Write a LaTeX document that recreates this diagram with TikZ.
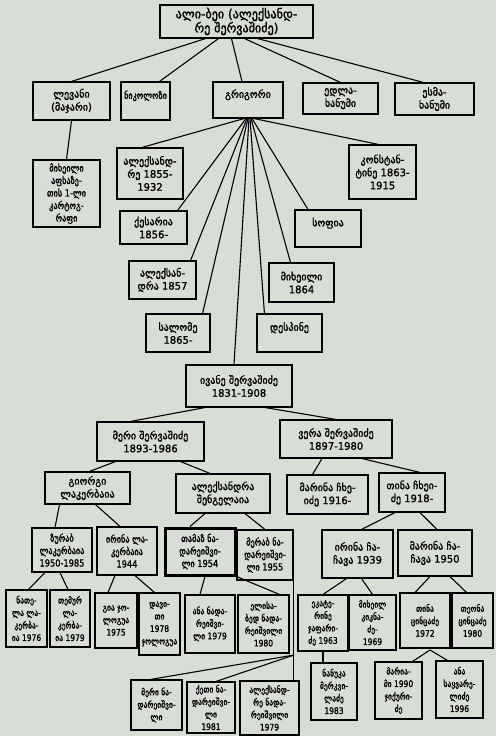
\documentclass[tikz,border=0pt]{standalone}
\usepackage{fontspec}
\usepackage{tikz}
\newfontfamily\gfont{DejaVu Sans}[FakeStretch=0.97, FakeBold=1.5]
\newfontfamily\gfontc{DejaVu Sans}[FakeStretch=0.84, FakeBold=1.5]
\definecolor{paper}{RGB}{216,221,213}
\tikzset{
  box/.style={draw, line width=1.1pt, fill=paper, align=center, inner sep=1pt,
    font=\gfont\fontsize{10.3}{13}\selectfont},
  sbox/.style={box, font=\gfontc\fontsize{9}{12.5}\selectfont},
  mbox/.style={box, font=\gfontc\fontsize{9.8}{12.5}\selectfont},
  sz/.style 2 args={minimum width=#1pt, minimum height=#2pt},
  link/.style={line width=1.1pt}
}
\begin{document}
\begin{tikzpicture}[x=1pt,y=-1pt]
  \fill[paper] (0,0) rectangle (496,736);
  \useasboundingbox (0,0) rectangle (496,736);
  % generation 1-2
  \node[box,sz={153}{33},font=\gfont\fontsize{12.5}{14}\selectfont] (top) at (236.5,21.5) {ალი-ბეი (ალექსანდ-\\რე შერვაშიძე)};
  \node[box,sz={77}{38}] (levani) at (71.5,101) {ლევანი\\(მაჯარი)};
  \node[mbox,sz={49}{38}] (nikolozi) at (145.5,101) {ნიკოლოზი\\~};
  \node[box,sz={70}{36}] (grigori) at (248,100) {გრიგორი\\~};
  \node[box,sz={75}{31}] (edla) at (340.5,98.5) {ედლა-\\ხანუმი};
  \node[box,sz={79}{32}] (esma) at (434.5,99) {ესმა-\\ხანუმი};
  \draw[link] ([xshift=-31pt]top.south) -- (levani.north);
  \draw[link] ([xshift=-18pt]top.south) -- ([xshift=14pt]nikolozi.north);
  \draw[link] ([xshift=-5pt]top.south) -- ([xshift=-6pt]grigori.north);
  \draw[link] ([xshift=8pt]top.south) -- (edla.north);
  \draw[link] ([xshift=21pt]top.south) -- ([xshift=-11pt]esma.north);
  % children of grigori
  \node[mbox,sz={67}{67}] (mikheili) at (66.5,193.5) {მიხეილი\\აფხაზე-\\თის 1-ლი\\კარტოგ-\\რაფი};
  \node[box,sz={66}{51}] (aleksandre) at (150,173.5) {ალექსანდ-\\რე 1855-\\1932};
  \node[box,sz={67}{33}] (kesaria) at (153.5,227.5) {ქესარია\\1856-};
  \node[box,sz={67}{54}] (konstantine) at (382.5,172) {კონსტან-\\ტინე 1863-\\1915};
  \node[box,sz={66}{37}] (sofia) at (328,228.5) {სოფია\\~};
  \node[box,sz={67}{38}] (aleksandra) at (162.5,280) {ალექსან-\\დრა 1857};
  \node[box,sz={65}{39}] (mikheil) at (301.5,282.5) {მიხეილი\\1864};
  \node[box,sz={64}{38}] (salome) at (178,333) {სალომე\\1865-};
  \node[box,sz={65}{38}] (despine) at (289.5,333) {დესპინე\\~};
  \node[box,sz={106}{42}] (ivane) at (239,386) {ივანე შერვაშიძე\\1831-1908};
  \draw[link] (levani.south) -- (mikheili.north);
  \draw[link] ([xshift=-4pt]grigori.south) -- ([xshift=-8pt]aleksandre.north);
  \draw[link] ([xshift=6pt]grigori.south) -- ([xshift=-4pt]konstantine.north);
  \draw[link] ([xshift=-2pt]grigori.south) -- ([xshift=-10pt]kesaria.north east);
  \draw[link] ([xshift=4pt]grigori.south) -- ([xshift=-20pt]sofia.north);
  \draw[link] ([xshift=-1pt]grigori.south) -- ([xshift=-6pt]aleksandra.north east);
  \draw[link] ([xshift=3pt]grigori.south) -- ([xshift=-11pt]mikheil.north);
  \draw[link] (grigori.south) -- ([xshift=-8pt]salome.north east);
  \draw[link] ([xshift=2pt]grigori.south) -- ([xshift=8pt]despine.north west);
  \draw[link] ([xshift=1pt]grigori.south) -- ([xshift=-5pt]ivane.north);
  % children of ivane
  \node[box,sz={107}{39}] (meri) at (150.5,441.5) {მერი შერვაშიძე\\1893-1986};
  \node[box,sz={112}{38}] (vera) at (336,439) {ვერა შერვაშიძე\\1897-1980};
  \draw[link] ([xshift=-34pt]ivane.south) -- ([xshift=-20pt]meri.north);
  \draw[link] ([xshift=26pt]ivane.south) -- (vera.north);
  \node[box,sz={85}{32}] (giorgi) at (87.5,488) {გიორგი\\ლაკერბაია};
  \node[box,sz={94}{39}] (aleksandrash) at (223,493.5) {ალექსანდრა\\შენგელაია};
  \node[box,sz={81}{39}] (marinach) at (327.5,494.5) {მარინა ჩხე-\\იძე 1916-};
  \node[box,sz={66}{39}] (tinach) at (412,492.5) {თინა ჩხეი-\\ძე 1918-};
  \draw[link] ([xshift=-35pt]meri.south) -- ([xshift=2pt]giorgi.north);
  \draw[link] ([xshift=30pt]meri.south) -- ([xshift=-13pt]aleksandrash.north);
  \draw[link] ([xshift=-14pt]vera.south) -- ([xshift=-15pt]marinach.north);
  \draw[link] ([xshift=26pt]vera.south) -- ([xshift=8pt]tinach.north);
  % fourth generation
  \node[mbox,sz={60}{44}] (zurab) at (62,550) {ზურაბ\\ლაკერბაია\\1950-1985};
  \node[mbox,sz={60}{48}] (irinal) at (127,551) {ირინა ლა-\\კერბაია\\1944};
  \node[mbox,sz={70}{47},line width=3pt] (tamaz) at (200,551.5) {თამაზ ნა-\\დარეიშვი-\\ლი 1954};
  \node[mbox,sz={56}{50}] (merab) at (265,555) {მერაბ ნა-\\დარეიშვი-\\ლი 1955};
  \node[box,sz={71}{48}] (irinacha) at (357.5,554) {ირინა ჩა-\\ჩავა 1939};
  \node[box,sz={74}{46}] (marinacha) at (435,553) {მარინა ჩა-\\ჩავა 1950};
  \draw[link] ([xshift=-28pt]giorgi.south) -- ([xshift=-7pt]zurab.north);
  \draw[link] ([xshift=8pt]giorgi.south) -- ([xshift=-7pt]irinal.north);
  \draw[link] ([xshift=-18pt]aleksandrash.south) -- ([xshift=-10pt]tamaz.north);
  \draw[link] ([xshift=22pt]aleksandrash.south) -- (merab.north);
  \draw[link] ([xshift=-17pt]tinach.south) -- ([xshift=4pt]irinacha.north);
  \draw[link] ([xshift=8pt]tinach.south) -- ([xshift=2pt]marinacha.north);
  % fifth generation
  \node[sbox,sz={41}{57}] (natela) at (26.5,618.5) {ნათე-\\ლა ლა-\\კერბა-\\ია 1976};
  \node[sbox,sz={40}{57}] (temur) at (70,618.5) {თემურ\\ლა-\\კერბა-\\ია 1979};
  \node[sbox,sz={42}{55}] (gia) at (116,620.5) {გია ჯო-\\ლოგუა\\1975};
  \node[sbox,sz={41}{62}] (davit) at (159.5,624) {დავი-\\თი\\1978\\ჯოლოგუა};
  \node[sbox,sz={50}{58}] (ana) at (210,624) {ანა ნადა-\\რეიშვი-\\ლი 1979};
  \node[sbox,sz={51}{58}] (elisabed) at (263.5,624) {ელისა-\\ბედ ნადა-\\რეიშვილი\\1980};
  \node[sbox,sz={50}{56}] (ekaterine) at (323,623) {ეკატე-\\რინე\\ჯაფარი-\\ძე 1963};
  \node[sbox,sz={47}{55}] (mikheilk) at (372.5,622.5) {მიხეილ\\კიკნა-\\ძე-\\1969};
  \node[sbox,sz={50}{55}] (tinats) at (425,620.5) {თინა\\ცინცაძე\\1972};
  \node[sbox,sz={41}{55}] (teona) at (472.5,620.5) {თეონა\\ცინცაძე\\1980};
  \draw[link] ([xshift=-17pt]zurab.south) -- ([xshift=2pt]natela.north);
  \draw[link] ([xshift=-2pt]zurab.south) -- ([xshift=-2pt]temur.north);
  \draw[link] ([xshift=-12pt]irinal.south) -- ([xshift=-8pt]gia.north);
  \draw[link] ([xshift=8pt]irinal.south) -- ([xshift=-5pt]davit.north);
  \draw[link] ([xshift=5pt]tamaz.south) -- ([xshift=-10pt]ana.north);
  \draw[link] (tamaz.south east) -- ([xshift=16pt]elisabed.north);
  \draw[link] ([xshift=-11pt]irinacha.south) -- (ekaterine.north);
  \draw[link] ([xshift=4pt]irinacha.south) -- (mikheilk.north);
  \draw[link] ([xshift=-5pt]marinacha.south) -- ([xshift=-10pt]tinats.north);
  \draw[link] ([xshift=15pt]marinacha.south) -- ([xshift=-6pt]teona.north);
  % sixth generation
  \node[sbox,sz={51}{50}] (merin) at (156.5,705) {მერი ნა-\\დარეიშვი-\\ლი};
  \node[sbox,sz={48}{51}] (ketin) at (211,707.5) {ქეთი ნა-\\დარეიშვი-\\ლი\\1981};
  \node[sbox,sz={59}{54}] (aleksn) at (269.5,708) {ალექსანდ-\\რე ნადა-\\რეიშვილი\\1979};
  \node[sbox,sz={46}{57}] (nanuka) at (334,691.5) {ნანუკა\\მერკვი-\\ლაძე\\1983};
  \node[sbox,sz={47}{57}] (mariam) at (398.5,690.5) {მარია-\\მი 1990\\ჯიქური-\\ძე};
  \node[sbox,sz={47}{57}] (anas) at (459.5,689.5) {ანა\\საყვარე-\\ლიძე\\1996};
  \coordinate (mfork) at (294,655);
  \draw[link] (merab.south east) -- (aleksn.north east -| merab.south east);
  \draw[link] (mfork) -- ([xshift=-6pt]merin.north);
  \draw[link] (mfork) -- ([xshift=5pt]ketin.north);
  \draw[link] (ekaterine.south) -- (nanuka.north -| ekaterine.south);
  \coordinate (tfork) at (430,650);
  \draw[link] (tfork) -- ([xshift=14pt]mariam.north);
  \draw[link] (tfork) -- ([xshift=-12pt]anas.north);
\end{tikzpicture}
\end{document}
